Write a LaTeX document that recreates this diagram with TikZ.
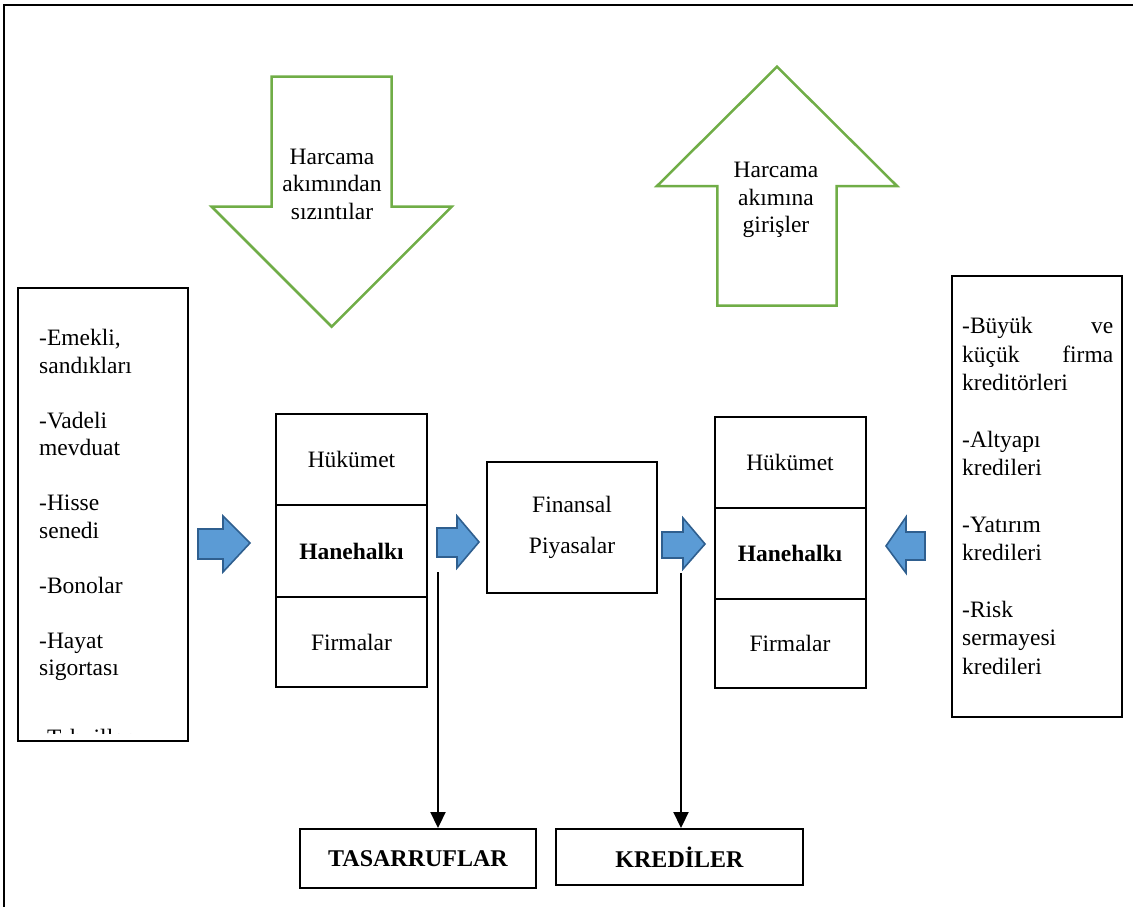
\documentclass[tikz,border=0pt]{standalone}
\usepackage{fontspec}
\setmainfont{Liberation Serif}
\usetikzlibrary{arrows.meta}
\definecolor{grn}{HTML}{70AD47}
\definecolor{bfill}{HTML}{5B9BD5}
\definecolor{bdraw}{HTML}{2F5F8F}
\begin{document}
\begin{tikzpicture}[x=1pt,y=-1pt,
  txt/.style={font=\fontsize{23.5}{27.5}\selectfont, inner sep=0pt},
  txtb/.style={font=\fontsize{24}{28}\selectfont\bfseries, inner sep=0pt},
  cell/.style={draw=black, line width=2pt, minimum width=151pt, inner sep=0pt, font=\fontsize{23.5}{27.5}\selectfont},
  bigbox/.style={draw=black, line width=2pt, inner sep=0pt},
  garrow/.style={draw=grn, line width=2.5pt, line join=miter},
  barrow/.style={draw=bdraw, fill=bfill, line width=1.6pt, line join=miter},
  conn/.style={draw=black, line width=2.2pt, -{Triangle[length=16pt,width=15pt]}}
]
\useasboundingbox (0,0) rectangle (1133,907);
% outer frame
\draw[line width=2.5pt] (1133,5) -- (4,5) -- (4,907);

% green arrows
\draw[garrow] (271.7,76.7) -- (391.7,76.7) -- (391.7,206.7) -- (451.7,206.7) -- (331.7,326.7) -- (211.7,206.7) -- (271.7,206.7) -- cycle;
\node[txt, align=center] (leak) at (332,184) {Harcama\\akımından\\sızıntılar};
\draw[garrow] (777,66.7) -- (897,186) -- (836.7,186) -- (836.7,305.7) -- (717.3,305.7) -- (717.3,186) -- (657,186) -- cycle;
\node[txt, align=center] (inj) at (776,200) {Harcama\\akımına\\girişler};

% left box
\node[bigbox, minimum width=169.4pt, minimum height=452.7pt] (lbox) at (103,514.7) {};
\node[txt, align=left, anchor=north west] (ltext) at (39,329) {-Emekli,\\sandıkları\\[27.5pt]-Vadeli\\mevduat\\[27.5pt]-Hisse\\senedi\\[27.5pt]-Bonolar\\[27.5pt]-Hayat\\sigortası};
\begin{scope}
\clip (18,289) rectangle (188,733);
\node[txt, anchor=base west] (tah) at (39,745) {-Tahviller};
\end{scope}

% right box
\node[bigbox, minimum width=170pt, minimum height=441pt] (rbox) at (1036.7,496.5) {};
\node[txt, align=left, anchor=north west] (rtext) at (962,317) {\hbox to 151pt{-Büyük\hfill ve}\\[1pt]\hbox to 151pt{küçük\hfill firma}\\[1pt]kreditörleri\\[29pt]-Altyapı\\[1pt]kredileri\\[29pt]-Yatırım\\[1pt]kredileri\\[29pt]-Risk\\[1pt]sermayesi\\[1pt]kredileri};

% left stack
\node[cell, minimum height=91pt] (lh) at (351.5,459.5) {Hükümet};
\node[cell, minimum height=92pt] (lm) at (351.5,551) {\bfseries Hanehalkı};
\node[cell, minimum height=90pt] (lf) at (351.5,642) {Firmalar};

% financial markets
\node[bigbox, minimum width=170.6pt, minimum height=131.6pt, align=center, font=\fontsize{23.5}{27.5}\selectfont] (fin) at (572,527.5) {Finansal\\[13.5pt]Piyasalar};

% right stack
\node[cell, minimum height=91pt] (rh) at (790,462.5) {Hükümet};
\node[cell, minimum height=91pt] (rm) at (790,553.5) {\bfseries Hanehalkı};
\node[cell, minimum height=89pt] (rf) at (790,643.5) {Firmalar};

% blue arrows
\draw[barrow] (198,529) -- (223,529) -- (223,516) -- (250,543) -- (223,572) -- (223,559) -- (198,559) -- cycle;
\draw[barrow] (437,528) -- (457,528) -- (457,516) -- (479,542) -- (457,568) -- (457,557) -- (437,557) -- cycle;
\draw[barrow] (662,532) -- (683,532) -- (683,518) -- (705,544) -- (683,569) -- (683,558) -- (662,558) -- cycle;
\draw[barrow] (925,532) -- (906,532) -- (906,517) -- (886,546) -- (906,573) -- (906,560) -- (925,560) -- cycle;

% bottom boxes
\node[bigbox, minimum width=236pt, minimum height=59pt, txtb] (tas) at (418,858.5) {TASARRUFLAR};
\node[bigbox, minimum width=247pt, minimum height=56pt, txtb] (kre) at (679.5,857) {KREDİLER};

% connectors
\coordinate (s1) at (438,572);
\coordinate (s2) at (681,573);
\draw[conn] (s1) -- (s1 |- tas.north);
\draw[conn] (s2) -- (s2 |- kre.north);
\end{tikzpicture}
\end{document}
